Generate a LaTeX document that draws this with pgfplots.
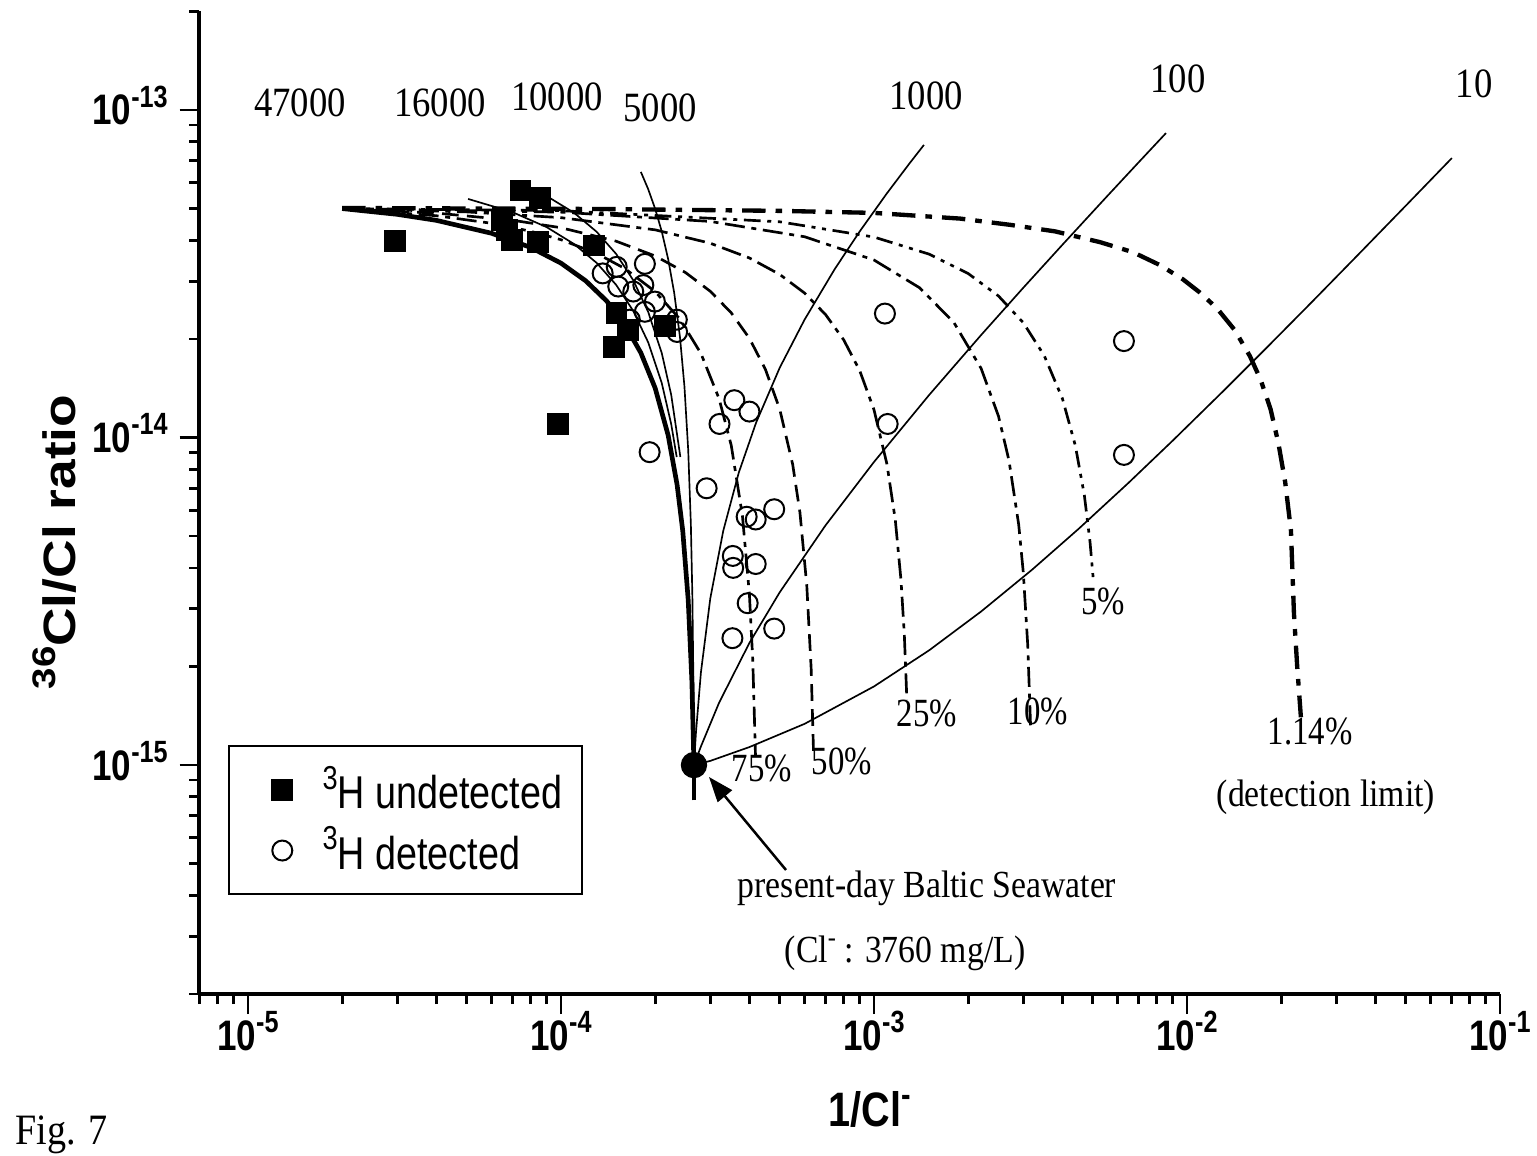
\documentclass[border=0pt]{standalone}
\usepackage{fontspec}
\usepackage{graphicx}
\usepackage{pgfplots}
\pgfplotsset{compat=1.18}
\usetikzlibrary{arrows.meta}
\setmainfont{Liberation Serif}
\newfontfamily\sansN[FakeStretch=0.82]{Liberation Sans}
\newfontfamily\sansF{Liberation Sans}
\newfontfamily\serifA[FakeStretch=0.88]{Liberation Serif}
\newfontfamily\serifB[FakeStretch=0.82]{Liberation Serif}
\newfontfamily\serifC[FakeStretch=0.88]{Liberation Serif}
\newcommand\sps[1]{\raisebox{0.42em}{\scalebox{0.72}{#1}}}

\begin{document}
\begin{tikzpicture}
\begin{axis}[
  at={(0pt,0pt)}, anchor=south west,
  scale only axis, width=390.15pt, height=294.8pt,
  xmode=log, ymode=log,
  xmin=7e-6, xmax=0.1, ymin=2e-16, ymax=2e-13,
  axis x line*=bottom, axis y line*=left,
  axis line style={line width=1.2pt},
  tick align=outside,
  major tick length=6pt, minor tick length=3pt,
  tick style={line width=0.8pt, black},
  xtick={1e-5,1e-4,1e-3,1e-2,1e-1},
  xticklabels={10\sps{-5},10\sps{-4},10\sps{-3},10\sps{-2},10\sps{-1}},
  ytick={1e-15,1e-14,1e-13},
  yticklabels={10\sps{-15},10\sps{-14},10\sps{-13}},
  minor xtick={7e-6,8e-6,9e-6,2e-5,3e-5,4e-5,5e-5,6e-5,7e-5,8e-5,9e-5,2e-4,3e-4,4e-4,5e-4,6e-4,7e-4,8e-4,9e-4,2e-3,3e-3,4e-3,5e-3,6e-3,7e-3,8e-3,9e-3,2e-2,3e-2,4e-2,5e-2,6e-2,7e-2,8e-2,9e-2},
  minor ytick={2e-16,3e-16,4e-16,5e-16,6e-16,7e-16,8e-16,9e-16,2e-15,3e-15,4e-15,5e-15,6e-15,7e-15,8e-15,9e-15,2e-14,3e-14,4e-14,5e-14,6e-14,7e-14,8e-14,9e-14,2e-13},
  tick label style={font=\sansN\bfseries\fontsize{12.8}{14}\selectfont},
  xticklabel style={anchor=base, yshift=-10.8pt},
  yticklabel style={anchor=base east, yshift=-4.5pt},
  legend style={at={(axis description cs:0.0219,0.2534)}, anchor=north west,
    draw=black, line width=0.6pt, fill=white, inner xsep=4pt, inner ysep=4pt,
    row sep=0pt, font=\sansN\fontsize{13.8}{16}\selectfont, nodes={inner sep=2pt}},
  legend cell align=left,
  legend image code/.code={\path (0pt,0pt) (21.5pt,0pt); \draw[#1] plot coordinates {(11.7pt,0pt)};},
]
% ---- mixing lines to seawater (solid) ----
\addplot[black, line width=1.4pt, forget plot] coordinates {
(2e-5,5.0e-14) (3e-5,4.801e-14) (4e-5,4.602e-14) (6e-5,4.203e-14) (8e-5,3.805e-14)
(1e-4,3.407e-14) (1.2e-4,3.008e-14) (1.4e-4,2.61e-14) (1.6e-4,2.211e-14) (1.8e-4,1.813e-14)
(2.0e-4,1.415e-14) (2.2e-4,1.016e-14) (2.35e-4,7.17e-15) (2.45e-4,5.18e-15) (2.55e-4,3.19e-15)
(2.62e-4,1.80e-15) (2.66e-4,1.0e-15)};
\addplot[black, line width=0.5pt, forget plot] coordinates {
(5.05e-5,5.35e-14) (7e-5,4.875e-14) (9e-5,4.388e-14) (1.1e-4,3.9e-14) (1.3e-4,3.413e-14)
(1.5e-4,2.926e-14) (1.7e-4,2.439e-14) (1.9e-4,1.952e-14) (2.1e-4,1.464e-14) (2.25e-4,1.099e-14)
(2.343e-4,8.72e-15)};
\addplot[black, line width=0.5pt, forget plot] coordinates {
(8.89e-5,5.5e-14) (1.1e-4,4.857e-14) (1.3e-4,4.247e-14) (1.5e-4,3.637e-14) (1.7e-4,3.027e-14)
(1.9e-4,2.417e-14) (2.1e-4,1.807e-14) (2.25e-4,1.35e-14) (2.407e-4,8.72e-15)};
\addplot[black, line width=0.5pt, forget plot] coordinates {
(1.8e-4,6.47e-14) (1.9e-4,5.729e-14) (2.0e-4,4.989e-14) (2.1e-4,4.248e-14) (2.2e-4,3.507e-14)
(2.3e-4,2.767e-14) (2.4e-4,2.026e-14) (2.48e-4,1.433e-14) (2.55e-4,9.15e-15) (2.6e-4,5.44e-15)
(2.63e-4,3.22e-15) (2.65e-4,1.74e-15) (2.66e-4,1.0e-15)};
% ---- lines from seawater to fresher end members ----
\addplot[black, line width=0.5pt, forget plot] coordinates {
(2.66e-4,1.0e-15) (2.7e-4,1.26e-15) (2.8e-4,1.92e-15) (3.0e-4,3.23e-15) (3.3e-4,5.19e-15)
(3.7e-4,7.82e-15) (4.2e-4,1.109e-14) (5e-4,1.634e-14) (6e-4,2.289e-14) (7.5e-4,3.272e-14)
(9e-4,4.255e-14) (1.1e-3,5.566e-14) (1.3e-3,6.876e-14) (1.444e-3,7.82e-14)};
\addplot[black, line width=0.5pt, forget plot] coordinates {
(2.66e-4,1.0e-15) (2.8e-4,1.14e-15) (3.2e-4,1.55e-15) (4e-4,2.36e-15) (5e-4,3.37e-15)
(7e-4,5.39e-15) (1e-3,8.42e-15) (1.5e-3,1.348e-14) (2.2e-3,2.056e-14) (3e-3,2.866e-14)
(4e-3,3.877e-14) (5.5e-3,5.395e-14) (7e-3,6.912e-14) (8.57e-3,8.5e-14)};
\addplot[black, line width=0.5pt, forget plot] coordinates {
(2.66e-4,1.0e-15) (3e-4,1.03e-15) (4e-4,1.135e-15) (6e-4,1.336e-15) (1e-3,1.738e-15)
(1.5e-3,2.24e-15) (2.2e-3,2.944e-15) (3.2e-3,3.949e-15) (4.5e-3,5.256e-15) (6.5e-3,7.267e-15)
(9e-3,9.78e-15) (1.3e-2,1.38e-14) (1.8e-2,1.883e-14) (2.5e-2,2.586e-14) (3.5e-2,3.592e-14)
(5e-2,5.1e-14) (7.02e-2,7.13e-14)};
% ---- percentage curves (dash-dot) ----
% 75%
\addplot[black, line width=0.8pt, dash pattern=on 6pt off 2pt on 1.5pt off 2pt, forget plot] coordinates {
(2e-5,5.0e-14) (4e-5,4.754e-14) (6e-5,4.509e-14) (8e-5,4.263e-14) (1e-4,4.017e-14)
(1.3e-4,3.649e-14) (1.6e-4,3.28e-14) (2e-4,2.789e-14) (2.4e-4,2.297e-14) (2.8e-4,1.806e-14)
(3.2e-4,1.314e-14) (3.5e-4,9.46e-15) (3.8e-4,5.77e-15) (4.0e-4,3.32e-15) (4.1e-4,2.09e-15)
(4.184e-4,1.06e-15)};
% 50%
\addplot[black, line width=0.8pt, dash pattern=on 5pt off 2.5pt, forget plot] coordinates {
(2e-5,5.0e-14) (4e-5,4.843e-14) (7e-5,4.606e-14) (1e-4,4.37e-14) (1.5e-4,3.976e-14)
(2e-4,3.583e-14) (2.5e-4,3.189e-14) (3e-4,2.795e-14) (3.5e-4,2.402e-14) (4e-4,2.008e-14)
(4.5e-4,1.614e-14) (5e-4,1.22e-14) (5.5e-4,8.27e-15) (5.8e-4,5.91e-15) (6.1e-4,3.54e-15)
(6.3e-4,1.97e-15) (6.41e-4,1.10e-15)};
% 25%
\addplot[black, line width=0.8pt, dash pattern=on 6pt off 2pt on 1.5pt off 2pt, forget plot] coordinates {
(2e-5,5.0e-14) (5e-5,4.884e-14) (1e-4,4.691e-14) (2e-4,4.305e-14) (3e-4,3.919e-14)
(4e-4,3.533e-14) (5e-4,3.147e-14) (6e-4,2.761e-14) (7e-4,2.375e-14) (8e-4,1.988e-14)
(9e-4,1.602e-14) (1.0e-3,1.216e-14) (1.1e-3,8.30e-15) (1.17e-3,5.60e-15) (1.22e-3,3.67e-15)
(1.25e-3,2.51e-15) (1.274e-3,1.58e-15)};
% 10%
\addplot[black, line width=0.8pt, dash pattern=on 6pt off 2pt on 1.5pt off 2pt, forget plot] coordinates {
(2e-5,5.0e-14) (1e-4,4.876e-14) (3e-4,4.567e-14) (6e-4,4.102e-14) (1e-3,3.483e-14)
(1.4e-3,2.864e-14) (1.8e-3,2.245e-14) (2.2e-3,1.625e-14) (2.5e-3,1.161e-14) (2.7e-3,8.51e-15)
(2.9e-3,5.42e-15) (3.0e-3,3.87e-15) (3.1e-3,2.32e-15) (3.165e-3,1.316e-15)};
% 5%
\addplot[black, line width=0.8pt, dash pattern=on 5pt off 2pt on 1.2pt off 2pt on 1.2pt off 2pt, forget plot] coordinates {
(2e-5,5.0e-14) (1e-4,4.926e-14) (5e-4,4.556e-14) (1e-3,4.093e-14) (1.5e-3,3.63e-14)
(2e-3,3.167e-14) (2.5e-3,2.704e-14) (3e-3,2.241e-14) (3.5e-3,1.778e-14) (4e-3,1.315e-14)
(4.4e-3,9.44e-15) (4.7e-3,6.67e-15) (4.9e-3,4.81e-15) (5.03e-3,3.61e-15)};
% 1.14% (detection limit)
\addplot[black, line width=1.3pt, dash pattern=on 7pt off 3pt on 2pt off 3pt, forget plot] coordinates {
(2e-5,5.02e-14) (1.332e-4,4.985e-14) (5e-4,4.92e-14) (1e-3,4.85e-14) (1.883e-3,4.66e-14)
(2.72e-3,4.46e-14) (3.787e-3,4.26e-14) (5.27e-3,3.95e-14) (6.72e-3,3.68e-14) (8.2e-3,3.36e-14)
(9.71e-3,3.04e-14) (1.1e-2,2.77e-14) (1.247e-2,2.48e-14) (1.42e-2,2.13e-14) (1.59e-2,1.77e-14)
(1.72e-2,1.50e-14) (1.85e-2,1.22e-14) (1.96e-2,9.6e-15) (2.06e-2,7.3e-15) (2.149e-2,5.2e-15)
(2.197e-2,2.9e-15) (2.25e-2,2.0e-15) (2.312e-2,1.40e-15)};
% seawater point
\addplot[black, line width=1.4pt, forget plot] coordinates {(2.66e-4,7.8e-16) (2.66e-4,1.0e-15)};
\addplot[black, only marks, mark=*, mark size=3.75pt, forget plot] coordinates {(2.66e-4,1.0e-15)};
% ---- samples ----
\addplot[black, only marks, mark=square*, mark size=3pt] coordinates {
(2.95e-5,3.98e-14) (7.43e-5,5.68e-14) (8.57e-5,5.38e-14) (6.48e-5,4.61e-14) (6.72e-5,4.30e-14)
(6.97e-5,4.01e-14) (8.45e-5,3.95e-14) (1.274e-4,3.85e-14) (1.507e-4,2.40e-14) (1.477e-4,1.89e-14)
(1.637e-4,2.13e-14) (2.15e-4,2.19e-14) (9.78e-5,1.10e-14)};
\addlegendentry{\sps{3}H undetected}
\addplot[black, only marks, mark=o, mark size=3pt, mark options={line width=0.6pt}] coordinates {
(1.359e-4,3.17e-14) (1.507e-4,3.32e-14) (1.854e-4,3.39e-14) (1.524e-4,2.89e-14) (1.833e-4,2.92e-14)
(1.702e-4,2.79e-14) (1.996e-4,2.60e-14) (1.854e-4,2.42e-14) (1.66e-4,2.29e-14) (2.345e-4,2.29e-14)
(2.35e-4,2.10e-14) (3.58e-4,1.30e-14) (4.0e-4,1.20e-14) (3.21e-4,1.10e-14) (1.92e-4,9.02e-15)
(2.92e-4,7.0e-15) (1.084e-3,2.39e-14) (1.106e-3,1.10e-14) (4.80e-4,6.04e-15) (3.92e-4,5.73e-15)
(4.19e-4,5.62e-15) (3.54e-4,4.35e-15) (3.55e-4,4.00e-15) (4.19e-4,4.11e-15) (3.95e-4,3.12e-15)
(4.80e-4,2.61e-15) (3.53e-4,2.44e-15) (6.29e-3,1.97e-14) (6.29e-3,8.85e-15)};
\addlegendentry{\sps{3}H detected}
\end{axis}
\begin{scope}[shift={(-59.85pt,298.2pt)}, x=0.3pt, y=-0.3pt]
\tikzset{numA/.style={anchor=base, inner sep=0pt, font=\serifA\fontsize{12.5}{14}\selectfont},
         numB/.style={anchor=base, inner sep=0pt, font=\serifB\fontsize{12}{14}\selectfont},
         txtC/.style={anchor=base, inner sep=0pt, font=\serifC\fontsize{11.5}{13}\selectfont}}
\node[numA] at (300,117) {47000};
\node[numA] at (440,117) {16000};
\node[numA] at (557,111) {10000};
\node[numA] at (660,122) {5000};
\node[numA] at (926,110) {1000};
\node[numA] at (1178,93) {100};
\node[numA] at (1474,98) {10};
\node[numB] at (762,782) {75\%};
\node[numB] at (842,775) {50\%};
\node[numB] at (927,727) {25\%};
\node[numB] at (1038,725) {10\%};
\node[numB] at (1103,615) {5\%};
\node[numB] at (1310,745) {1.14\%};
\node[txtC] at (1326,807) {(detection limit)};
\node[txtC] at (927,898) {present-day Baltic Seawater};
\node[txtC] at (905,963) {(Cl\sps{-} : 3760 mg/L)};
\draw[line width=0.75pt, -{Triangle[length=7.5pt,width=5.5pt]}] (786,870) -- (709,777);
\node[anchor=base, inner sep=0pt, font=\sansN\bfseries\fontsize{14.5}{16}\selectfont] at (870,1127) {1/Cl\sps{-}};
\node[anchor=base, inner sep=0pt, rotate=90, font=\sansF\bfseries\fontsize{16}{18}\selectfont] at (75,542) {\scalebox{1}[0.85]{\sps{36}Cl/Cl ratio}};
\node[anchor=base west, inner sep=0pt, font=\serifC\fontsize{13}{15}\selectfont] at (15,1145) {Fig. 7};
\end{scope}
\pgfresetboundingbox
\useasboundingbox (-59.85pt,-48.6pt) rectangle (401.25pt,298.2pt);
\end{tikzpicture}
\end{document}
